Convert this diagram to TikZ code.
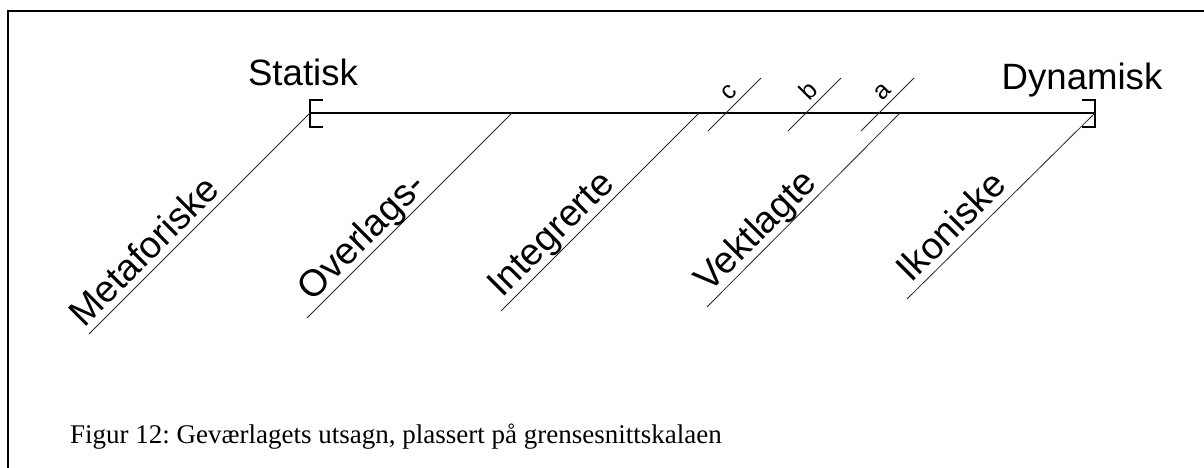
\documentclass[tikz,border=0pt]{standalone}
\usepackage{fontspec}
\setmainfont{Liberation Serif}
\newfontfamily\arialf{Liberation Sans}
\begin{document}
\begin{tikzpicture}[x=1pt,y=-1pt,
  big/.style={font=\arialf\fontsize{36.6}{40}\selectfont, inner sep=0pt},
  diag/.style={font=\arialf\fontsize{37.5}{40}\selectfont, inner sep=0pt, rotate=45, anchor=base},
  small/.style={font=\arialf\fontsize{25}{28}\selectfont, inner sep=0pt, rotate=45, anchor=base},
  captext/.style={font=\frenchspacing\fontsize{27}{30}\selectfont, inner sep=0pt, anchor=base west},
  thin/.style={line width=0.8pt, draw=black!85},
  axis/.style={line width=1.3pt},
  brk/.style={line width=1.1pt}]
\useasboundingbox (0,0) rectangle (1204,468);
\clip (0,0) rectangle (1204,468);
\draw[line width=1.3pt] (8,11) rectangle (1214,480);
% axis
\coordinate (S) at (310,113);
\coordinate (D) at (1095,113);
\draw[axis] (S) -- (D);
\draw[brk] (323,100) -- (310,100) -- (310,127) -- (323,127);
\draw[brk] (1082,100) -- (1095,100) -- (1095,127) -- (1082,127);
\node[big, anchor=base] (stat) at (303,86) {Statisk};
\node[big, anchor=base] (dyn) at (1082,90) {Dynamisk};
% diagonal lines
\coordinate (m2) at (89,334);
\coordinate (o1) at (512,113); \coordinate (o2) at (307,318);
\coordinate (i1) at (699,113); \coordinate (i2) at (501,311);
\coordinate (v1) at (900,113); \coordinate (v2) at (707,307);
\coordinate (k2) at (907,299);
\draw[thin] (S) -- (m2);
\draw[thin] (o1) -- (o2);
\draw[thin] (i1) -- (i2);
\draw[thin] (v1) -- (v2);
\draw[thin] (D) -- (k2);
\node[diag] (met) at (153,260) {Metaforiske};
\node[diag] (ovl) at (370,245) {Overlags-};
\node[diag] (int) at (559,242) {Integrerte};
\node[diag] (vek) at (764,239) {Vektlagte};
\node[diag] (iko) at (960,235) {Ikoniske};
% short marks a b c
\coordinate (c1) at (708,131); \coordinate (c2) at (761,78);
\coordinate (b1) at (788,131); \coordinate (b2) at (841,78);
\coordinate (a1) at (861,131); \coordinate (a2) at (914,78);
\draw[thin] (c1) -- (c2);
\draw[thin] (b1) -- (b2);
\draw[thin] (a1) -- (a2);
\node[small] (lc) at (734,97) {c};
\node[small] (lb) at (814,97) {b};
\node[small] (la) at (887,97) {a};
% caption
\node[captext] (caption) at (70,443) {Figur 12: Geværlagets utsagn, plassert på grensesnittskalaen};
\end{tikzpicture}
\end{document}
